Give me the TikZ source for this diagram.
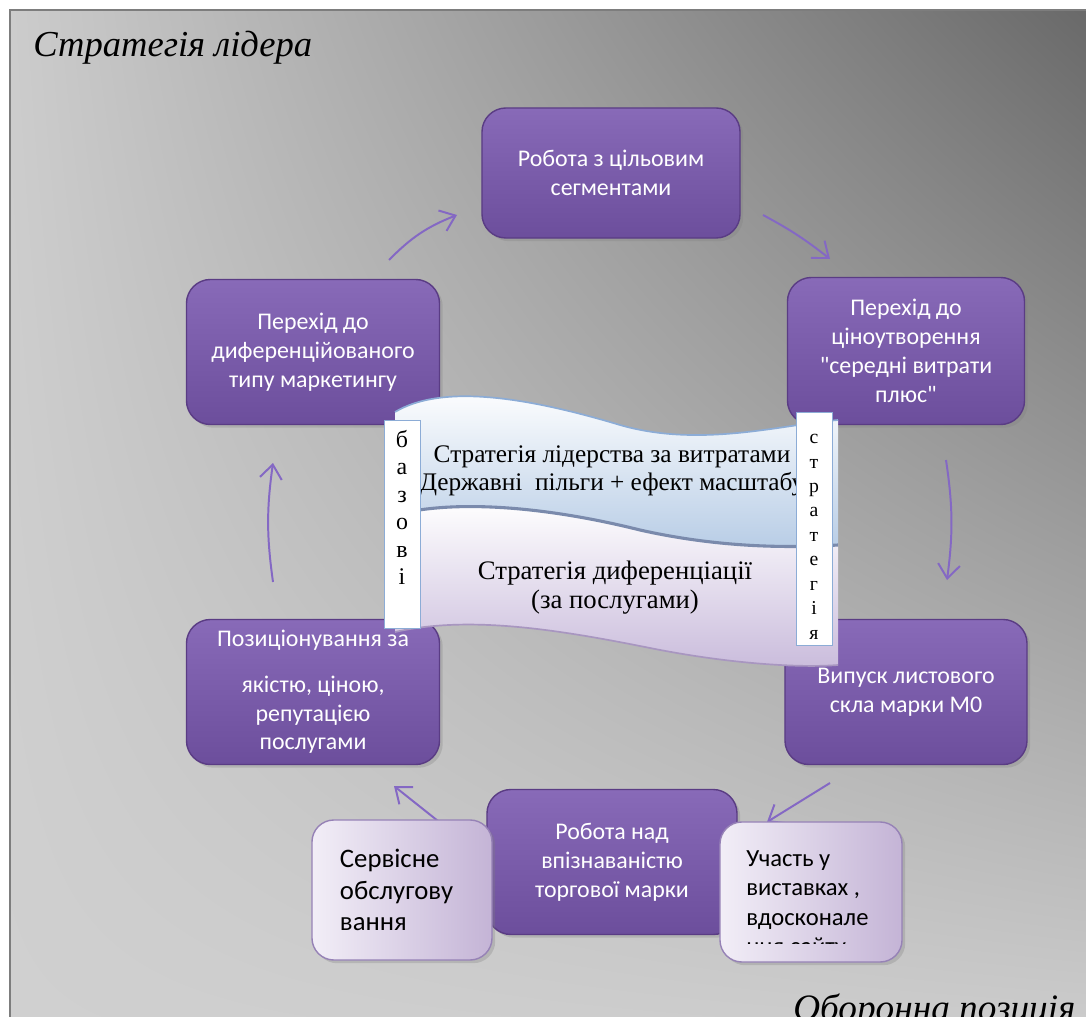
\documentclass[tikz,border=0pt]{standalone}
\usepackage{fontspec}
\setmainfont{Liberation Serif}
\newfontfamily\boxfont{Carlito}
\usetikzlibrary{arrows.meta,shadows,shadings}

\definecolor{bgul}{RGB}{204,204,204}
\definecolor{bgur}{RGB}{104,104,104}
\definecolor{bgll}{RGB}{208,208,208}
\definecolor{bglr}{RGB}{204,204,204}
\definecolor{frameline}{RGB}{125,125,125}
\definecolor{boxtop}{RGB}{136,106,184}
\definecolor{boxbot}{RGB}{108,78,156}
\definecolor{boxline}{RGB}{90,60,132}
\definecolor{arrowcol}{RGB}{132,104,196}
\definecolor{sidel}{RGB}{242,238,247}
\definecolor{sider}{RGB}{196,180,214}
\definecolor{sideline}{RGB}{150,130,182}
\definecolor{bandblue}{RGB}{184,205,230}
\definecolor{bandlav}{RGB}{202,188,220}
\definecolor{bandedge}{RGB}{140,172,214}
\definecolor{bandmid}{RGB}{122,138,172}
\definecolor{bandlow}{RGB}{168,150,192}

\begin{document}
\begin{tikzpicture}[x=0.025cm, y=-0.025cm,
    pbox/.style={rectangle, rounded corners=0.6cm, top color=boxtop, bottom color=boxbot,
        draw=boxline, line width=1pt, text=white, align=center,
        font=\boxfont\fontsize{17}{20.5}\selectfont,
        drop shadow={opacity=0.3, shadow xshift=0.8mm, shadow yshift=-0.8mm}},
    sbox/.style={rectangle, rounded corners=0.55cm, left color=sidel, right color=sider,
        draw=sideline, line width=1pt,
        drop shadow={opacity=0.3, shadow xshift=0.8mm, shadow yshift=-0.8mm}},
    strip/.style={rectangle, draw=bandedge, fill=white, line width=0.6pt, minimum width=0.9cm, inner sep=0pt},
    arrow/.style={-{Straight Barb[length=3.5mm,width=5.5mm]}, arrowcol, line width=1.4pt}
]
\useasboundingbox (0,0) rectangle (1086,1017);
\clip (0,0) rectangle (1086,1017);

% Panel
\fill[white] (0,0) rectangle (1086,1017);
\shade[upper left=bgul, upper right=bgur, lower left=bgll, lower right=bglr] (10,10) rectangle (1100,1030);
\draw[frameline, line width=1.5pt] (10,1030) -- (10,10) -- (1100,10);

% Arrows
\coordinate (a1s) at (389,260); \coordinate (a1e) at (457,215);
\coordinate (a2s) at (763,215); \coordinate (a2e) at (830,259);
\coordinate (a3s) at (946,460); \coordinate (a3e) at (947,580);
\coordinate (a4s) at (830,783); \coordinate (a4e) at (767,822);
\coordinate (a5s) at (438,821); \coordinate (a5e) at (394,786);
\coordinate (a6s) at (273,582); \coordinate (a6e) at (273,463);
\draw[arrow] (a1s) to[bend left=12] (a1e);
\draw[arrow] (a2s) to[bend left=5] (a2e);
\draw[arrow] (a3s) to[bend left=8] (a3e);
\draw[arrow] (a4s) -- (a4e);
\draw[arrow] (a5s) -- (a5e);
\draw[arrow] (a6s) to[bend left=8] (a6e);

% Cycle
\node[pbox, minimum width=6.45cm, minimum height=3.25cm] (segm) at (611,173) {Робота з цільовим\\сегментами};
\node[pbox, minimum width=5.925cm, minimum height=3.675cm] (price) at (906,351) {Перехід до\\ціноутворення\\"середні витрати\\плюс"};
\node[pbox, minimum width=6.05cm, minimum height=3.625cm] (glass) at (906,692) {Випуск листового\\скла марки М0};
\node[pbox, minimum width=6.25cm, minimum height=3.625cm] (brand) at (612,862) {Робота над\\впізнаваністю\\торгової марки};
\node[pbox, minimum width=6.325cm, minimum height=3.625cm] (posit) at (313,692) {Позиціонування за\\[12pt]якістю, ціною,\\репутацією\\послугами};
\node[pbox, minimum width=6.325cm, minimum height=3.625cm] (mkt) at (313,352) {Перехід до\\диференційованого\\типу маркетингу};

% Banner
\shade[top color=white, bottom color=bandblue] (395,412) .. controls (440,385) and (520,395) .. (620,425)
    .. controls (700,448) and (780,425) .. (838,420) -- (838,545)
    .. controls (790,548) and (720,548) .. (640,530) .. controls (540,505) and (450,500) .. (395,515) -- cycle;
\shade[top color=white, bottom color=bandlav] (395,515) .. controls (450,500) and (540,505) .. (640,530)
    .. controls (720,548) and (790,548) .. (838,545) -- (838,665)
    .. controls (800,668) and (730,664) .. (650,648) .. controls (560,630) and (470,615) .. (395,632) -- cycle;
\draw[bandedge, line width=1.2pt] (395,412) .. controls (440,385) and (520,395) .. (620,425)
    .. controls (700,448) and (780,425) .. (838,420);
\draw[bandmid, line width=2.2pt] (395,515) .. controls (450,500) and (540,505) .. (640,530)
    .. controls (720,548) and (790,548) .. (838,545);
\draw[bandlow, line width=1.2pt] (395,632) .. controls (470,615) and (560,630) .. (650,648)
    .. controls (730,664) and (800,668) .. (838,665);
\node[font=\fontsize{18}{19.8}\selectfont, align=center] (cost) at (612,471) {Стратегія лідерства за витратами\\(Державні~ пільги + ефект масштабу)};
\node[font=\fontsize{19}{20.5}\selectfont, align=center] (diff) at (615,588) {Стратегія диференціації\\(за послугами)};

% Side labels
\node[strip, minimum height=5.2cm] (basic) at (402,524) {};
\node[font=\fontsize{17}{19.5}\selectfont, align=center, anchor=north, inner sep=0pt] (basictxt) at (402,430) {б\\а\\з\\о\\в\\і};
\node[strip, minimum height=5.825cm] (strat) at (814,528.5) {};
\node[font=\fontsize{14}{17.4}\selectfont, align=center, anchor=north, inner sep=0pt] (strattxt) at (814,434) {с\\т\\р\\а\\т\\е\\г\\і\\я};

% Extras
\node[sbox, minimum width=4.5cm, minimum height=3.5cm, text width=3.1cm, align=left,
    font=\boxfont\fontsize{19}{22.5}\selectfont] (serv) at (402,890) {Сервісне\\обслугову\\вання};
\node[sbox, minimum width=4.55cm, minimum height=3.5cm] (expo) at (811,892) {};
\begin{scope}
\clip (722,824) rectangle (900,943);
\node[font=\boxfont\fontsize{17.5}{21}\selectfont, align=left, anchor=north west, inner sep=0pt] (expotxt) at (746,850) {Участь у\\виставках ,\\вдосконале\\ння сайту};
\end{scope}

% Titles
\node[font=\fontsize{26}{30}\selectfont\itshape, anchor=base west, inner sep=0pt] (title) at (33,57) {Стратегія лідера};
\node[font=\fontsize{26.5}{30}\selectfont\itshape, anchor=base west, inner sep=0pt] (defence) at (793,1020) {Оборонна позиція};
\end{tikzpicture}
\end{document}
